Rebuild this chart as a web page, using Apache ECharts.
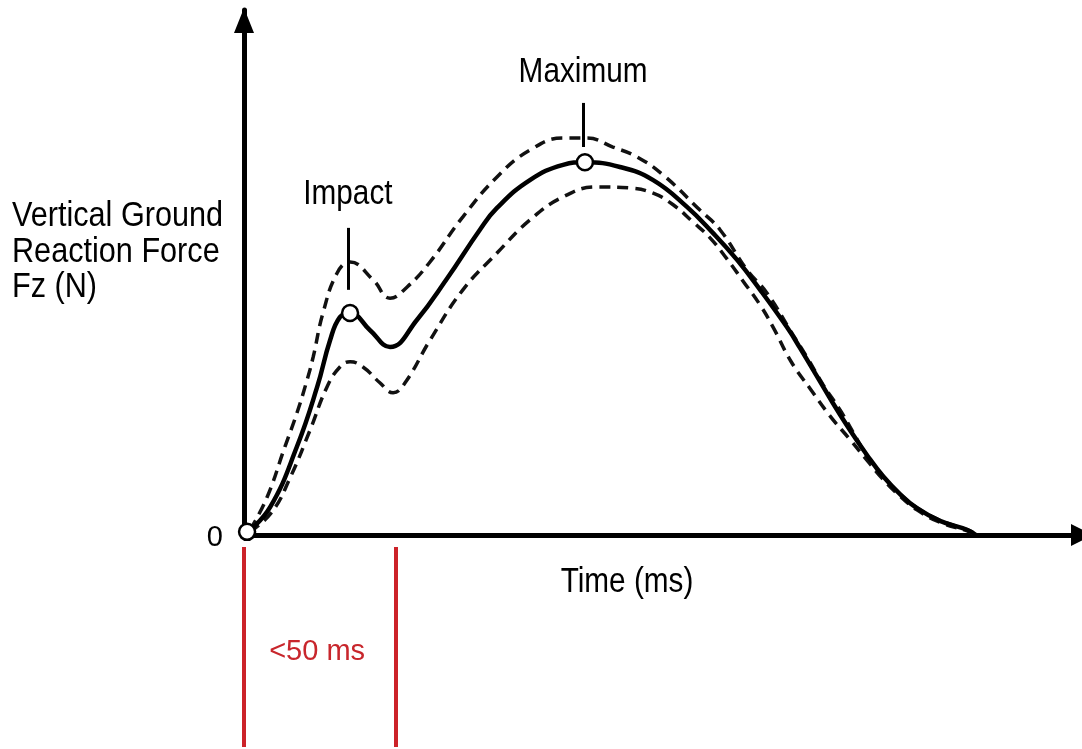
<!DOCTYPE html>
<html>
<head>
<meta charset="utf-8">
<title>Vertical Ground Reaction Force</title>
<script src="https://cdn.jsdelivr.net/npm/echarts@6.0.0/dist/echarts.min.js"></script>
<style>
  html, body { margin: 0; padding: 0; background: #fff; }
  #chart { width: 1082px; height: 749px; }
</style>
</head>
<body>
<div id="chart"></div>
<script>
// [time (ms), force] - mean curve
const meanCurve = [
  [1.0, 0.4], [8.5, 5.3], [17.2, 16.8], [23.8, 28.2], [28.0, 37.1], [31.2, 41.5],
  [34.5, 42.3], [41.0, 39.0], [47.5, 35.8], [56.3, 41.0], [66.0, 48.8], [76.8, 58.2],
  [82.3, 62.3], [93.0, 67.6], [103.8, 70.5], [110.9, 71.0], [122.3, 70.1], [133.1, 67.6],
  [144.1, 62.5], [152.6, 57.5], [160.4, 52.4], [167.9, 46.7], [176.6, 39.6], [180.9, 35.6],
  [191.6, 25.1], [197.1, 20.0], [202.7, 15.2], [207.9, 11.2], [213.4, 7.8], [218.9, 5.1],
  [226.4, 2.7], [235.2, 1.0], [238.1, 0]
];
// upper dashed band
const upperCurve = [
  [2.0, 1.0], [7.5, 7.2], [13.3, 16.8], [17.2, 23.2], [20.5, 29.5], [22.5, 33.9],
  [25.7, 42.3], [30.3, 49.9], [34.5, 52.0], [42.0, 48.6], [47.5, 45.1], [53.0, 47.2],
  [60.5, 52.0], [71.2, 60.6], [82.3, 68.2], [93.0, 73.3], [103.8, 75.6], [111.6, 75.6],
  [120.0, 73.9], [127.9, 72.0], [136.3, 68.6], [148.3, 61.9], [154.9, 58.1], [163.6, 50.5],
  [170.1, 46.1], [178.6, 38.1], [183.2, 33.8], [188.4, 28.6], [193.9, 23.8], [198.1, 19.6],
  [202.7, 15.0], [207.9, 11.2], [213.4, 7.8], [218.9, 5.2], [226.4, 2.8], [235.2, 1.0],
  [238.8, 0]
];
// lower dashed band
const lowerCurve = [
  [2.0, 0.6], [9.1, 4.4], [15.0, 10.9], [21.5, 20.0], [27.0, 28.2], [31.2, 32.0],
  [34.5, 33.0], [38.7, 32.0], [44.2, 29.0], [48.5, 27.1], [52.4, 29.0], [60.5, 37.1],
  [71.2, 46.7], [82.3, 53.7], [93.0, 60.0], [103.8, 64.4], [114.8, 66.3], [125.6, 66.1],
  [133.1, 65.1], [139.6, 62.9], [146.1, 59.6], [151.6, 56.6], [157.1, 52.6], [162.3, 48.4],
  [167.9, 43.8], [172.1, 39.6], [178.0, 33.0], [184.0, 28.0], [190.6, 22.7], [197.1, 18.2],
  [202.7, 14.2], [207.9, 10.6], [213.4, 7.4], [218.9, 4.8], [226.4, 2.4], [235.2, 0.8],
  [238.0, 0]
];
// open circle markers: origin, impact peak, maximum
const markerPoints = [[1.0, 0.6], [34.5, 42.3], [110.9, 71.0]];
// annotation ticks above the markers: [time, fromForce, toForce, label]
const annotations = [
  [33.8, 46.7, 58.5, 'Impact'],
  [110.3, 73.9, 82.3, 'Maximum']
];
// loading window (red lines)
const windowEdges = [0, 49.5];
const windowLabel = '<50 ms';
const yTicks = [0];

const X_MAX = 272.6;
const FONT = "'Liberation Sans', Arial, sans-serif";
// the source font is a narrow grotesque, squeeze the regular one
const NARROW = 0.85;
const LABEL_GAP = [34, 31];

const chart = echarts.init(document.getElementById('chart'));

function narrowText(x, y, text, align, vAlign, scale) {
  return {
    type: 'text', x: x, y: y, scaleX: scale || NARROW, z: 20,
    style: {
      text: text, fill: '#000', font: '35px ' + FONT, lineHeight: 35.5,
      textAlign: align, textVerticalAlign: vAlign
    }
  };
}

const option = {
  backgroundColor: '#fff',
  animation: false,
  grid: [
    { left: 244, right: 0, top: 10, bottom: 214 },
    { left: 244, right: 0, top: 547, height: 200 }
  ],
  xAxis: [
    {
      type: 'value', gridIndex: 0, min: 0, max: X_MAX,
      axisLine: {
        show: true,
        symbol: ['none', 'triangle'],
        symbolSize: [22, 22],
        symbolOffset: [0, 0],
        lineStyle: { color: '#000', width: 5 }
      },
      axisTick: { show: false },
      axisLabel: { show: false },
      splitLine: { show: false }
    },
    {
      type: 'value', gridIndex: 1, min: 0, max: X_MAX, show: false
    }
  ],
  yAxis: [
    {
      type: 'value', gridIndex: 0, min: 0, max: 100, interval: 100,
      axisLine: {
        show: true,
        symbol: ['none', 'triangle'],
        symbolSize: [20, 25],
        symbolOffset: [0, -10.5],
        lineStyle: { color: '#000', width: 5 }
      },
      axisTick: { show: false },
      axisLabel: {
        margin: 21,
        color: '#000',
        fontSize: 29,
        fontFamily: FONT,
        verticalAlign: 'top',
        lineHeight: 5,
        formatter: v => (yTicks.indexOf(v) >= 0 ? String(v) : '')
      },
      splitLine: { show: false }
    },
    { type: 'value', gridIndex: 1, min: 0, max: 1, show: false }
  ],
  series: [
    {
      name: 'upper', type: 'line', smooth: 0.45, symbol: 'none',
      data: upperCurve,
      lineStyle: { color: '#111', width: 3.5, type: [11, 7] },
      z: 3
    },
    {
      name: 'lower', type: 'line', smooth: 0.45, symbol: 'none',
      data: lowerCurve,
      lineStyle: { color: '#111', width: 3.5, type: [11, 7] },
      z: 3
    },
    {
      name: 'mean', type: 'line', smooth: 0.45, symbol: 'none',
      data: meanCurve,
      lineStyle: { color: '#000', width: 4.5 },
      z: 4
    },
    {
      name: 'markers', type: 'scatter',
      data: markerPoints,
      symbol: 'circle', symbolSize: 16,
      itemStyle: { color: '#fff', borderColor: '#000', borderWidth: 2.5, opacity: 1 },
      z: 6,
      markLine: {
        silent: true,
        symbol: 'none',
        lineStyle: { color: '#000', width: 3, type: 'solid' },
        label: { show: false },
        data: annotations.map(a => [{ coord: [a[0], a[1]] }, { coord: [a[0], a[2]] }])
      }
    },
    {
      name: 'window', type: 'line', xAxisIndex: 1, yAxisIndex: 1, data: [],
      markLine: {
        silent: true,
        symbol: 'none',
        label: { show: false },
        lineStyle: { color: '#cc2229', width: 4, type: 'solid' },
        data: windowEdges.map(v => ({ xAxis: v }))
      },
      markArea: {
        silent: true,
        itemStyle: { color: 'rgba(0,0,0,0)' },
        label: {
          show: true, position: 'inside', color: '#c8262c',
          fontSize: 29, fontFamily: FONT, offset: [-3, 5]
        },
        data: [[{ xAxis: windowEdges[0], name: windowLabel }, { xAxis: windowEdges[1] }]]
      }
    }
  ]
};

chart.setOption(option);

// axis names and the annotation texts above the tick lines
const texts = [
  narrowText(12, 199, 'Vertical Ground\nReaction Force\nFz (N)', 'left', 'top', 0.875),
  narrowText(627, 582, 'Time (ms)', 'center', 'middle')
];
annotations.forEach((a, i) => {
  const p = chart.convertToPixel({ gridIndex: 0 }, [a[0], a[2]]);
  texts.push(narrowText(p[0], p[1] - LABEL_GAP[i], a[3], 'center', 'middle'));
});
chart.setOption({ graphic: texts });
</script>
</body>
</html>
